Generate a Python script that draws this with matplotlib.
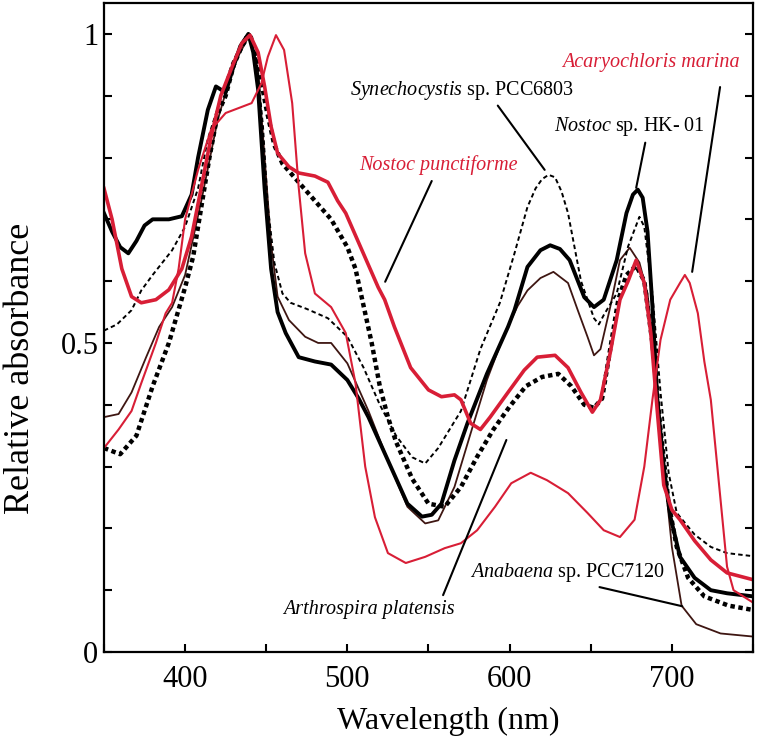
import matplotlib
matplotlib.use("Agg")
import matplotlib.pyplot as plt
from matplotlib.ticker import MultipleLocator

plt.rcParams['font.family'] = ['Liberation Serif', 'DejaVu Serif']
plt.rcParams['mathtext.fontset'] = 'custom'
plt.rcParams['mathtext.rm'] = 'Liberation Serif'
plt.rcParams['mathtext.it'] = 'Liberation Serif:italic'

# Synechocystis sp. PCC6803 (thin dotted black)
wl_syn = [350, 358, 367, 373, 380, 392, 400, 408, 414, 421, 429, 437, 440, 444, 448, 451,
          455, 460, 465, 475, 488, 500, 510, 520, 530, 540, 548, 556, 563, 570, 582, 594,
          603, 611, 616, 620, 624, 628, 632, 636, 644, 652, 655, 658, 666, 673, 680, 683, 688,
          693, 698, 703, 714, 724, 734, 750]
abs_syn = [0.52, 0.53, 0.553, 0.585, 0.61, 0.65, 0.688, 0.75, 0.83, 0.888, 0.953, 0.995, 1.0,
           0.96, 0.85, 0.72, 0.63, 0.58, 0.565, 0.555, 0.54, 0.51, 0.46, 0.40, 0.35, 0.315,
           0.305, 0.33, 0.36, 0.39, 0.49, 0.565, 0.645, 0.72, 0.75, 0.765, 0.772, 0.768,
           0.745, 0.71, 0.60, 0.54, 0.53, 0.545, 0.58, 0.656, 0.704, 0.688, 0.58, 0.42, 0.29,
           0.225, 0.19, 0.17, 0.16, 0.155]

# Nostoc sp. HK-01 (thick black)
wl_hk = [350, 355, 360, 365, 370, 375, 380, 390, 398, 404, 408, 414, 419, 425, 429, 434, 439,
         442, 445, 449, 453, 457, 462, 470, 480, 490, 500, 507, 513, 525, 537, 546, 552, 558,
         566, 574, 586, 599, 603, 611, 619, 625, 631, 637, 646, 652, 658, 666, 672, 676, 679,
         682, 685, 688, 691, 695, 699, 705, 714, 724, 734, 750]
abs_hk = [0.71, 0.68, 0.655, 0.645, 0.665, 0.69, 0.70, 0.70, 0.705, 0.74, 0.80, 0.877, 0.915,
          0.905, 0.94, 0.98, 1.0, 0.97, 0.91, 0.75, 0.62, 0.55, 0.516, 0.477, 0.47, 0.465,
          0.44, 0.41, 0.38, 0.31, 0.24, 0.219, 0.222, 0.24, 0.31, 0.37, 0.45, 0.526, 0.553,
          0.623, 0.65, 0.658, 0.652, 0.634, 0.574, 0.558, 0.57, 0.634, 0.71, 0.74, 0.748,
          0.735, 0.68, 0.56, 0.41, 0.30, 0.22, 0.154, 0.12, 0.10, 0.095, 0.09]

# Anabaena sp. PCC7120 (thin brown)
wl_ana = [350, 359, 367, 376, 384, 392, 400, 410, 420, 430, 440, 445, 449, 453, 457, 464, 474,
          482, 490, 500, 513, 525, 537, 548, 556, 566, 576, 586, 597, 605, 611, 619, 627, 636,
          642, 648, 652, 656, 662, 668, 674, 680, 685, 690, 695, 700, 706, 715, 730, 750]
abs_ana = [0.38, 0.385, 0.42, 0.477, 0.526, 0.558, 0.61, 0.73, 0.86, 0.95, 1.0, 0.94, 0.80,
           0.66, 0.575, 0.537, 0.51, 0.50, 0.50, 0.467, 0.39, 0.31, 0.235, 0.208, 0.213,
           0.267, 0.354, 0.44, 0.516, 0.56, 0.585, 0.605, 0.615, 0.597, 0.553, 0.51, 0.48,
           0.49, 0.558, 0.634, 0.654, 0.63, 0.58, 0.45, 0.30, 0.17, 0.075, 0.045, 0.03, 0.025]

# Arthrospira platensis (thick dotted black)
wl_art = [350, 360, 370, 380, 390, 400, 405, 410, 415, 420, 425, 430, 435, 440, 445, 450, 455,
          460, 470, 480, 490, 500, 505, 510, 515, 520, 525, 530, 540, 550, 560, 570, 580, 590,
          600, 610, 620, 630, 638, 646, 652, 657, 662, 667, 672, 678, 683, 688, 693, 698, 703,
          710, 720, 735, 750]
abs_art = [0.33, 0.32, 0.35, 0.43, 0.50, 0.59, 0.64, 0.72, 0.80, 0.87, 0.90, 0.95, 0.98, 1.0,
           0.95, 0.88, 0.82, 0.79, 0.76, 0.73, 0.70, 0.655, 0.62, 0.56, 0.50, 0.43, 0.38,
           0.34, 0.28, 0.24, 0.235, 0.267, 0.316, 0.36, 0.397, 0.43, 0.445, 0.45, 0.43, 0.40,
           0.395, 0.41, 0.49, 0.57, 0.61, 0.625, 0.60, 0.50, 0.36, 0.24, 0.17, 0.12, 0.09,
           0.075, 0.068]

# Nostoc punctiforme (thick red)
wl_pun = [350, 355, 361, 367, 373, 382, 390, 398, 404, 410, 416, 422, 429, 435, 440, 445, 449,
          453, 457, 464, 470, 480, 488, 494, 499, 508, 519, 523, 529, 539, 550, 558, 566, 570,
          576, 582, 588, 599, 609, 617, 628, 636, 644, 651, 656, 662, 668, 673, 678, 683, 687,
          691, 695, 700, 705, 714, 724, 734, 750]
abs_pun = [0.75, 0.70, 0.62, 0.575, 0.565, 0.57, 0.586, 0.62, 0.672, 0.752, 0.833, 0.90, 0.947,
           0.985, 0.998, 0.97, 0.915, 0.85, 0.807, 0.785, 0.775, 0.77, 0.76, 0.73, 0.71, 0.656,
           0.59, 0.57, 0.526, 0.46, 0.424, 0.413, 0.416, 0.408, 0.37, 0.36, 0.38, 0.42, 0.456,
           0.477, 0.48, 0.46, 0.42, 0.388, 0.408, 0.484, 0.57, 0.60, 0.634, 0.597, 0.516,
           0.39, 0.27, 0.23, 0.214, 0.18, 0.149, 0.128, 0.117]

# Acaryochloris marina (thin red)
wl_aca = [350, 359, 367, 373, 382, 388, 392, 396, 400, 408, 416, 425, 433, 441, 447, 451, 456,
          461, 466, 470, 474, 480, 490, 499, 505, 511, 517, 525, 536, 548, 560, 570, 580, 591,
          601, 613, 623, 636, 648, 658, 668, 677, 683, 688, 693, 699, 705, 708, 711, 716, 720,
          724, 730, 734, 738, 750]
abs_aca = [0.33, 0.36, 0.39, 0.435, 0.50, 0.548, 0.565, 0.62, 0.70, 0.78, 0.845, 0.872, 0.88,
           0.888, 0.92, 0.963, 0.998, 0.974, 0.888, 0.752, 0.645, 0.58, 0.558, 0.516, 0.435,
           0.30, 0.218, 0.16, 0.144, 0.154, 0.168, 0.176, 0.197, 0.235, 0.273, 0.29, 0.278,
           0.257, 0.225, 0.197, 0.186, 0.214, 0.30, 0.408, 0.505, 0.57, 0.597, 0.61, 0.597,
           0.548, 0.47, 0.408, 0.246, 0.138, 0.10, 0.08]

red = '#d81e36'
brown = '#3e1612'

fig = plt.figure(figsize=(7.6, 7.46), dpi=100)
ax = fig.add_axes([0.1368, 0.126, 0.854, 0.870])

ax.plot(wl_ana, abs_ana, color=brown, lw=1.3)
ax.plot(wl_syn, abs_syn, color='black', lw=1.4, linestyle=(0, (2.3, 1.6)))
ax.plot(wl_art, abs_art, color='black', lw=3.2, linestyle=(0, (1.0, 0.8)))
ax.plot(wl_hk, abs_hk, color='black', lw=2.8)
ax.plot(wl_aca, abs_aca, color=red, lw=1.5)
ax.plot(wl_pun, abs_pun, color=red, lw=2.6)

# labels with leader lines
fs = 14.5
line_kw = dict(arrowstyle='-', color='black', lw=1.5, shrinkA=0, shrinkB=0)
ax.text(501.8, 0.909, r'$\mathit{Synechocystis}$ sp. PCC6803', fontsize=fs, va='center')
ax.annotate('', xy=(621.6, 0.78), xytext=(592.7, 0.884), arrowprops=line_kw)
ax.text(627.1, 0.850, r'$\mathit{Nostoc}$ sp. HK- 01', fontsize=fs, va='center')
ax.annotate('', xy=(678.0, 0.751), xytext=(683.6, 0.824), arrowprops=line_kw)
ax.text(632.6, 0.953, 'Acaryochloris marina', fontsize=fs, style='italic', color=red, va='center')
ax.annotate('', xy=(712.5, 0.615), xytext=(729.7, 0.914), arrowprops=line_kw)
ax.text(507.3, 0.788, 'Nostoc punctiforme', fontsize=fs, style='italic', color=red, va='center')
ax.annotate('', xy=(523.3, 0.599), xytext=(552.0, 0.762), arrowprops=line_kw)
ax.text(460.6, 0.068, 'Arthrospira platensis', fontsize=fs, style='italic', va='center')
ax.annotate('', xy=(598.0, 0.343), xytext=(559.0, 0.092), arrowprops=line_kw)
ax.text(575.5, 0.128, r'$\mathit{Anabaena}$ sp. PCC7120', fontsize=fs, va='center')
ax.annotate('', xy=(706.4, 0.074), xytext=(655.4, 0.105), arrowprops=line_kw)

ax.set_xlim(350, 750)
ax.set_ylim(0, 1.05)
ax.set_xticks([400, 500, 600, 700])
ax.xaxis.set_minor_locator(MultipleLocator(50))
ax.set_yticks([0, 0.5, 1])
ax.set_yticklabels(['0', '0.5', '1'])
ax.yaxis.set_minor_locator(MultipleLocator(0.1))
ax.tick_params(which='both', direction='in', length=6, width=1.5, right=True, top=False,
               labelsize=22)
ax.tick_params(axis='x', pad=9)
ax.tick_params(axis='y', pad=4)
for s in ax.spines.values():
    s.set_linewidth(1.6)

ax.set_xlabel('Wavelength (nm)', fontsize=23)
ax.set_ylabel('Relative absorbance', fontsize=26)
ax.yaxis.set_label_coords(-0.103, 0.437)
ax.xaxis.set_label_coords(0.53, -0.085)

fig.savefig('out.png', dpi=100)
